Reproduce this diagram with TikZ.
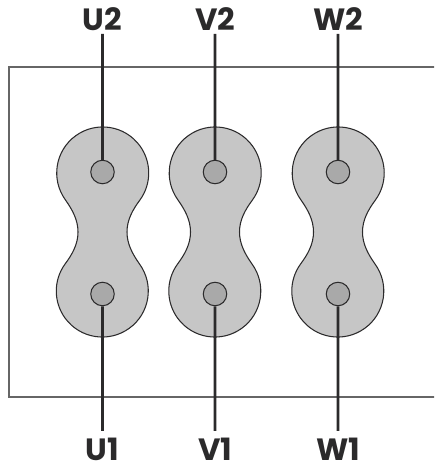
\documentclass[tikz,border=0pt]{standalone}
\usepackage{fontspec}
\setmainfont{Poppins}
\definecolor{plate}{HTML}{C6C6C6}
\definecolor{stud}{HTML}{A9A9A9}
\definecolor{ink}{HTML}{2B2A2B}
\definecolor{frame}{HTML}{666666}
\tikzset{
  link/.style={draw=ink,fill=plate,line width=0.6pt},
  terminal/.style={circle,draw=ink,fill=stud,line width=0.6pt,minimum size=0.47cm,inner sep=0pt},
  wire/.style={draw=ink,line width=1.6pt},
  label/.style={font=\fontsize{17.5}{20}\selectfont\bfseries,text=ink,inner sep=1.7pt}
}
\begin{document}
\begin{tikzpicture}[xscale=0.02,yscale=-0.02]
    \useasboundingbox (0,0) rectangle (434,467);
    \begin{scope}
        \clip (0,0) rectangle (434,467);
        \draw[frame,line width=0.6pt] (445,67) -- (9,67) -- (9,397) -- (445,397);
    \end{scope}
    \foreach \x/\name in {102.5/U,215/V,338/W} {
        \path[link] (\x-37,200)
            arc[start angle=144,end angle=396,radius=46]
            .. controls (\x+30,210) and (\x+24.5,220) .. (\x+24.5,232)
            .. controls (\x+24.5,244) and (\x+30,254) .. (\x+37,264)
            arc[start angle=-36,end angle=216,radius=46]
            .. controls (\x-30,254) and (\x-24.5,244) .. (\x-24.5,232)
            .. controls (\x-24.5,220) and (\x-30,210) .. (\x-37,200) -- cycle;
        \node[terminal] (\name top) at (\x,172) {};
        \node[terminal] (\name bot) at (\x,294) {};
        \node[label] (\name 2) at (\x,19) {\name2};
        \node[label] (\name 1) at (\x,449.5) {\name1};
        \draw[wire] (\name 2) -- (\name top);
        \draw[wire,shorten <=2.3pt] (\name 1) -- (\name bot);
    }
\end{tikzpicture}
\end{document}
